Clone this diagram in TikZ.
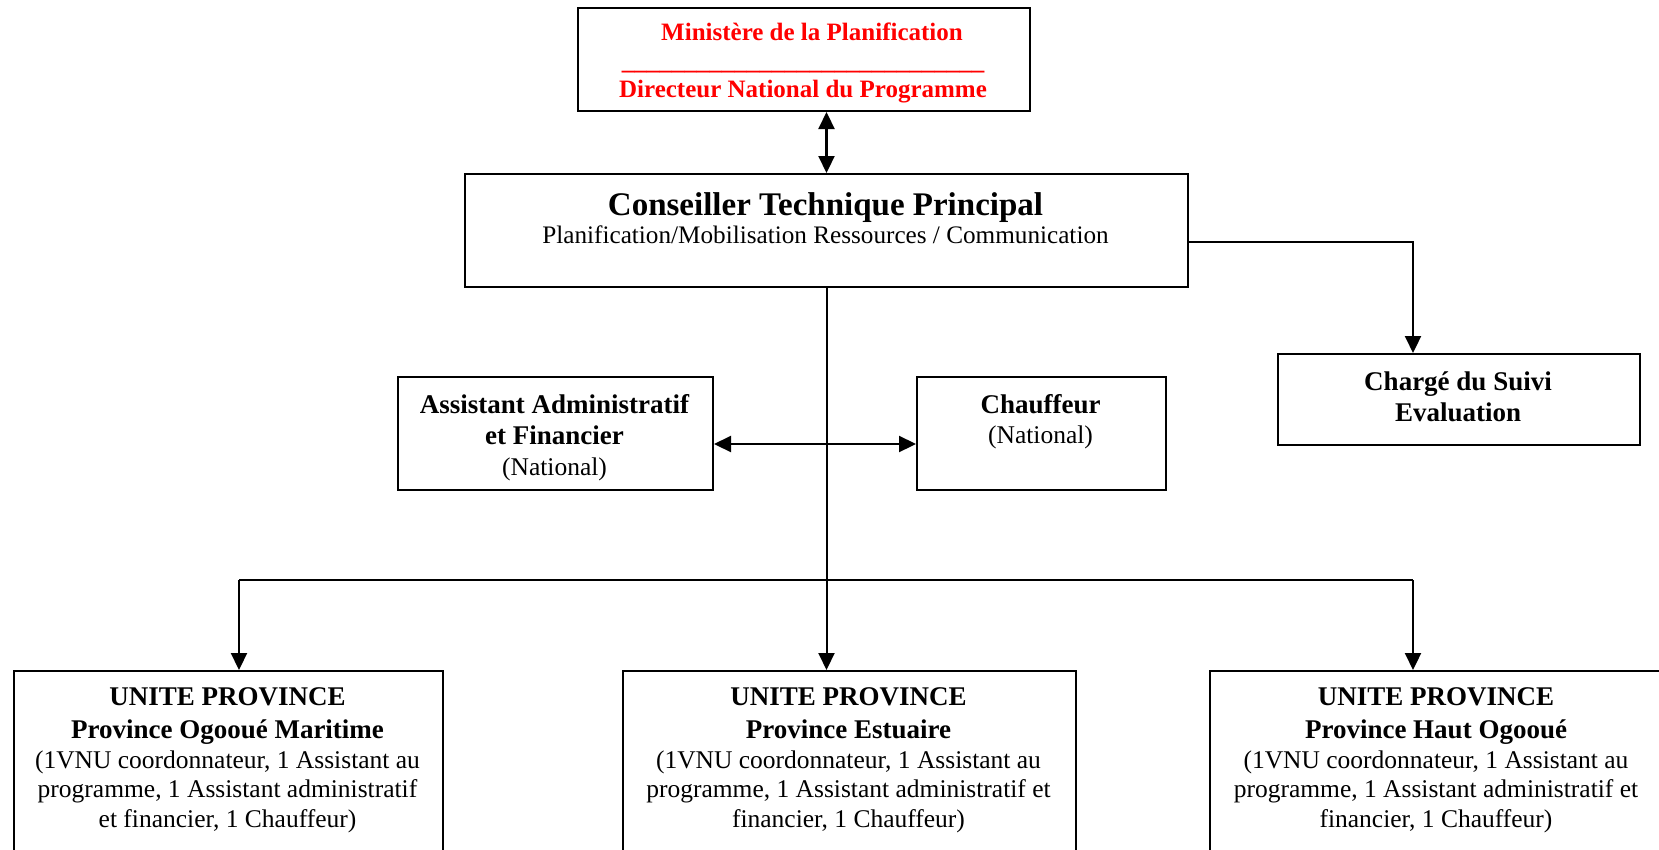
\documentclass[tikz,border=0pt]{standalone}
\usepackage{fontspec}
\setmainfont{Liberation Serif}
\usetikzlibrary{arrows.meta,calc}
\definecolor{redtxt}{RGB}{255,0,0}
\begin{document}
\begin{tikzpicture}[x=1pt,y=-1pt,
  box/.style={draw, line width=2pt, inner sep=0pt, anchor=north west},
  txt/.style={inner sep=0pt, anchor=north, align=center},
  conn/.style={line width=2.2pt},
  arr/.style={conn, -{Triangle[length=17pt,width=16pt]}},
  darr/.style={conn, {Triangle[length=17pt,width=16pt]}-{Triangle[length=17pt,width=16pt]}},
  boldt/.style={font=\fontsize{27}{31}\selectfont\bfseries}
]
\useasboundingbox (0,0) rectangle (1659,849);
\clip (0,0) rectangle (1659,849);
\fill[white] (0,0) rectangle (1659,849);

% boxes
\node[box, minimum width=452pt, minimum height=103pt] (dnp) at (577,7) {};
\node[box, minimum width=723pt, minimum height=113pt] (ctp) at (464,173) {};
\node[box, minimum width=362pt, minimum height=91pt] (suivi) at (1277,353) {};
\node[box, minimum width=315pt, minimum height=113pt] (aaf) at (397,376) {};
\node[box, minimum width=249pt, minimum height=113pt] (chauf) at (916,376) {};
\node[box, minimum width=429pt, minimum height=260pt] (prov1) at (13,670) {};
\node[box, minimum width=453pt, minimum height=260pt] (prov2) at (622,670) {};
\node[box, minimum width=454pt, minimum height=260pt] (prov3) at (1209,670) {};

% texts
\node[txt, text=redtxt, font=\fontsize{25}{28.5}\selectfont\bfseries] (dnpt) at (803,23)
  {\hspace*{18pt}Ministère de la Planification\\
   \_\_\_\_\_\_\_\_\_\_\_\_\_\_\_\_\_\_\_\_\_\_\_\_\_\_\_\_\_\\
   Directeur National du Programme};
\node[txt, font=\fontsize{25.2}{28}\selectfont] (ctpt) at (825.5,192.5)
  {{\fontsize{33}{28}\selectfont\bfseries Conseiller Technique Principal}\\
   Planification/Mobilisation Ressources / Communication};
\node[txt, boldt] (suivit) at (1458,371.5) {Chargé du Suivi\\Evaluation};
\node[txt, boldt] (aaft) at (554.5,394.5)
  {Assistant Administratif\\et Financier\\{\fontsize{25.5}{31}\selectfont\mdseries (National)}};
\node[txt, font=\fontsize{27}{30}\selectfont\bfseries] (chauft) at (1040.5,394.5)
  {Chauffeur\\{\fontsize{25.5}{30}\selectfont\mdseries (National)}};
\node[txt, font=\fontsize{25.5}{29.5}\selectfont] (prov1t) at (227.5,687)
  {{\fontsize{27}{29.5}\selectfont\bfseries UNITE PROVINCE}\\[3.5pt]
   {\fontsize{27}{29.5}\selectfont\bfseries Province Ogooué Maritime}\\[0.5pt]
   (1VNU coordonnateur, 1 Assistant au\\
   programme, 1 Assistant administratif\\
   et financier, 1 Chauffeur)};
\node[txt, font=\fontsize{25.5}{29.5}\selectfont] (prov2t) at (848.5,687)
  {{\fontsize{27}{29.5}\selectfont\bfseries UNITE PROVINCE}\\[3.5pt]
   {\fontsize{27}{29.5}\selectfont\bfseries Province Estuaire}\\[0.5pt]
   (1VNU coordonnateur, 1 Assistant au\\
   programme, 1 Assistant administratif et\\
   financier, 1 Chauffeur)};
\node[txt, font=\fontsize{25.5}{29.5}\selectfont] (prov3t) at (1436,687)
  {{\fontsize{27}{29.5}\selectfont\bfseries UNITE PROVINCE}\\[3.5pt]
   {\fontsize{27}{29.5}\selectfont\bfseries Province Haut Ogooué}\\[0.5pt]
   (1VNU coordonnateur, 1 Assistant au\\
   programme, 1 Assistant administratif et\\
   financier, 1 Chauffeur)};

% connectors
\draw[darr] (ctp.north |- dnp.south) -- (ctp.north);
\coordinate (b1) at (1413,242);
\draw[arr] (ctp.east |- b1) -- (b1) -- (b1 |- suivi.north);
\draw[arr, line width=2pt] (ctp.south) -- (ctp.south |- prov2.north);
\coordinate (busL) at (239,580);
\coordinate (busR) at (1413,580);
\draw[conn] (busL) -- (busR);
\draw[arr] (busL) -- (busL |- prov1.north);
\draw[arr] (busR) -- (busR |- prov3.north);
\coordinate (da) at (826,444);
\draw[darr] (aaf.east |- da) -- (chauf.west |- da);
\end{tikzpicture}
\end{document}
